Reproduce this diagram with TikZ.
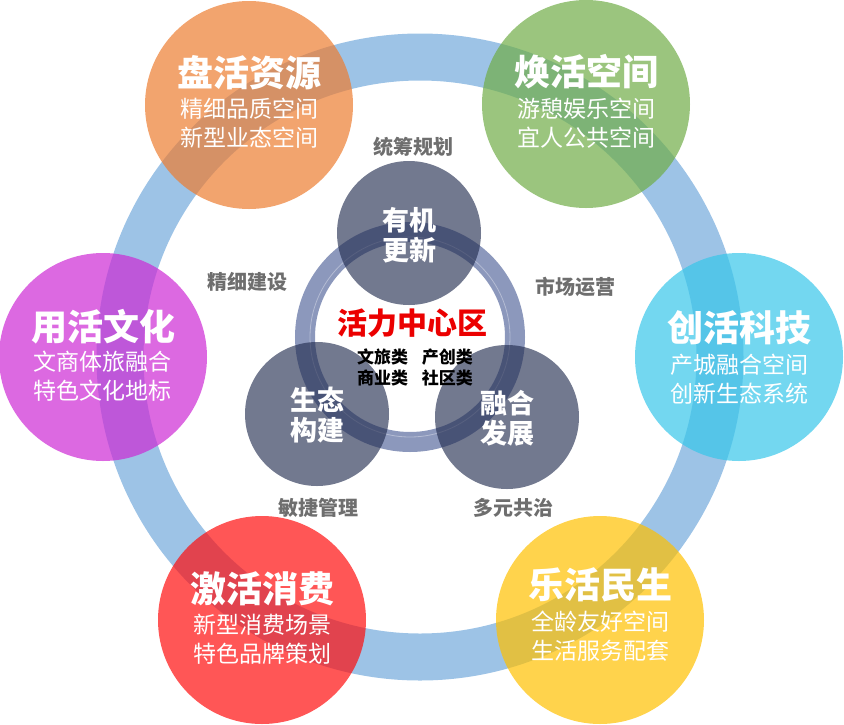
\documentclass[tikz,border=0pt]{standalone}
\usepackage{fontspec}
\setmainfont{Noto Sans CJK SC}
\definecolor{ringblue}{RGB}{157,195,230}
\definecolor{cOrange}{RGB}{237,125,49}
\definecolor{cGreen}{RGB}{112,173,71}
\definecolor{cMagenta}{RGB}{205,42,212}
\definecolor{cCyan}{RGB}{55,198,234}
\definecolor{cRed}{RGB}{255,14,14}
\definecolor{cYellow}{RGB}{255,192,0}
\definecolor{innerring}{RGB}{140,152,188}
\definecolor{innerdark}{RGB}{35,45,80}
\definecolor{labelgrey}{RGB}{110,110,110}
\definecolor{centerred}{RGB}{235,0,0}
\tikzset{
  outercirc/.style={circle, minimum size=208pt, inner sep=0pt, draw=none, fill opacity=0.7},
  innercirc/.style={circle, minimum size=144pt, inner sep=0pt, draw=none, fill=innerdark, fill opacity=0.64},
  ttl/.style={text=white, font=\fontsize{36}{40}\selectfont\bfseries, inner sep=0pt},
  subt/.style={text=white, font=\fontsize{23}{29}\selectfont, align=center, inner sep=0pt},
  innerttl/.style={text=white, font=\fontsize{27}{30}\selectfont\bfseries, align=center, inner sep=0pt},
  lbl/.style={text=labelgrey, font=\fontsize{20}{24}\selectfont\bfseries, inner sep=0pt},
  cat/.style={text=black, font=\fontsize{17}{21}\selectfont\bfseries, inner sep=0pt}
}
\begin{document}
\begin{tikzpicture}[x=1pt,y=-1pt]
\useasboundingbox (0,0) rectangle (844,724);
% big ring
\coordinate (bigc) at (420,357);
\draw[ringblue, line width=47pt] (bigc) circle[radius=300pt];
% outer circles
\node[outercirc, fill=cOrange]  (pan)  at (249,105) {};
\node[outercirc, fill=cGreen]   (huan) at (586,104) {};
\node[outercirc, fill=cMagenta] (yong) at (103,357) {};
\node[outercirc, fill=cCyan]    (chuang) at (739,357) {};
\node[outercirc, fill=cRed]     (ji)   at (262,620) {};
\node[outercirc, fill=cYellow]  (le)   at (600,620) {};
% outer texts
\node[ttl] (panT) at ([yshift=32pt]pan.center) {盘活资源};
\node[subt] (panS) at ([yshift=-18pt]pan.center) {精细品质空间\\新型业态空间};
\node[ttl] (huanT) at ([yshift=32pt]huan.center) {焕活空间};
\node[subt] (huanS) at ([yshift=-19pt]huan.center) {游憩娱乐空间\\宜人公共空间};
\node[ttl] (yongT) at ([yshift=30pt]yong.center) {用活文化};
\node[subt] (yongS) at ([yshift=-19pt]yong.center) {文商体旅融合\\特色文化地标};
\node[ttl] (chuangT) at ([yshift=29pt]chuang.center) {创活科技};
\node[subt] (chuangS) at ([yshift=-22pt]chuang.center) {产城融合空间\\创新生态系统};
\node[ttl] (jiT) at ([yshift=31pt]ji.center) {激活消费};
\node[subt] (jiS) at ([yshift=-19pt]ji.center) {新型消费场景\\特色品牌策划};
\node[ttl] (leT) at ([yshift=35pt]le.center) {乐活民生};
\node[subt] (leS) at ([yshift=-16pt]le.center) {全龄友好空间\\生活服务配套};
% inner ring
\coordinate (innc) at (410,337);
\draw[innerring, line width=20pt] (innc) circle[radius=105pt];
\draw[white, opacity=0.35, line width=0.8pt] (innc) circle[radius=100pt];
% inner circles
\node[innercirc] (youji) at (409,233) {};
\node[innercirc] (shengtai) at (317,414) {};
\node[innercirc] (ronghe) at (507,417) {};
\node[innerttl] at ([yshift=-2pt]youji.center) {有机\\更新};
\node[innerttl] at ([yshift=-1pt]shengtai.center) {生态\\构建};
\node[innerttl] at ([yshift=-1pt]ronghe.center) {融合\\发展};
% center texts
\node[text=centerred, font=\fontsize{30}{34}\selectfont\bfseries, inner sep=0pt] (center) at (412,323) {活力中心区};
\node[cat] (cat1) at (415,357) {文旅类\hspace{0.8em}产创类};
\node[cat] (cat2) at (415,378) {商业类\hspace{0.8em}社区类};
% labels
\node[lbl] (l1) at (413,147) {统筹规划};
\node[lbl] (l2) at (247,282) {精细建设};
\node[lbl] (l3) at (575,287) {市场运营};
\node[lbl] (l4) at (318,508) {敏捷管理};
\node[lbl] (l5) at (513,508) {多元共治};
\end{tikzpicture}
\end{document}
